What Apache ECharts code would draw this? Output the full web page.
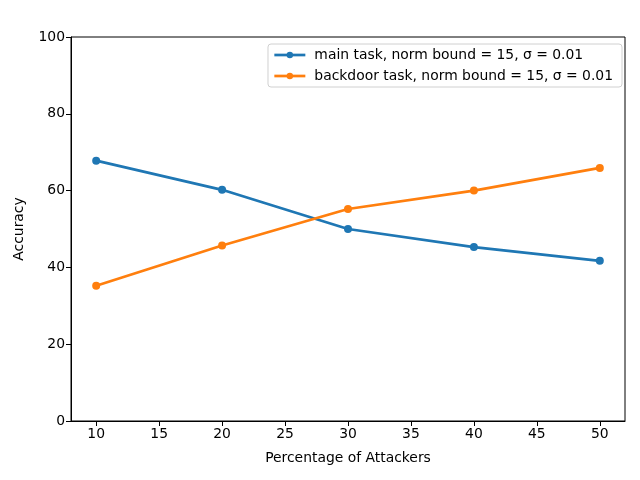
<!DOCTYPE html>
<html>
<head>
<meta charset="utf-8">
<script src="https://cdn.jsdelivr.net/npm/echarts@6/dist/echarts.min.js"></script>
<style>html,body{margin:0;padding:0;background:#fff}#c{width:640px;height:480px}</style>
</head>
<body>
<div id="c"></div>
<script>
const attackers = [10, 20, 30, 40, 50];
const mainTask = [67.8, 60.2, 50.0, 45.3, 41.7];
const backdoorTask = [35.2, 45.7, 55.2, 60.0, 65.9];
const xTicks = [10, 15, 20, 25, 30, 35, 40, 45, 50];
const mainName = 'main task, norm bound = 15, σ = 0.01';
const backdoorName = 'backdoor task, norm bound = 15, σ = 0.01';

const font = 'DejaVu Sans';
const fs = 13.9;
const chart = echarts.init(document.getElementById('c'), null, {renderer: 'canvas'});
chart.setOption({
  animation: false,
  backgroundColor: '#fff',
  textStyle: {fontFamily: font},
  grid: {left: 71, right: 15, top: 37, bottom: 59, show: true, borderColor: '#000', borderWidth: 1, backgroundColor: 'transparent'},
  legend: {
    right: 18, top: 44, orient: 'vertical',
    backgroundColor: '#fff', borderColor: '#d0d0d0', borderWidth: 1, borderRadius: 3,
    padding: [4, 9, 4, 5], itemGap: 7, itemWidth: 31, itemHeight: 8,
    lineStyle: {width: 2.7},
    textStyle: {fontFamily: font, fontSize: fs, color: '#000', padding: [0, 0, 0, 4]},
    data: [mainName, backdoorName]
  },
  xAxis: {
    type: 'value', min: 8, max: 52,
    name: 'Percentage of Attackers', nameLocation: 'middle', nameGap: 30,
    nameTextStyle: {fontFamily: font, fontSize: fs, color: '#000'},
    axisLine: {show: true, lineStyle: {color: '#000', width: 1}},
    axisTick: {show: true, customValues: xTicks, length: 5, lineStyle: {color: '#000'}},
    axisLabel: {customValues: xTicks, fontFamily: font, fontSize: fs, color: '#000', margin: 6},
    splitLine: {show: false}
  },
  yAxis: {
    type: 'value', min: 0, max: 100, interval: 20,
    name: 'Accuracy', nameLocation: 'middle', nameGap: 45, nameRotate: 90,
    nameTextStyle: {fontFamily: font, fontSize: fs, color: '#000'},
    axisLine: {show: true, lineStyle: {color: '#000', width: 1}},
    axisTick: {show: true, length: 5, lineStyle: {color: '#000'}},
    axisLabel: {fontFamily: font, fontSize: fs, color: '#000', margin: 6},
    splitLine: {show: false}
  },
  series: [
    {name: mainName, type: 'line', data: attackers.map((x, i) => [x, mainTask[i]]),
     color: '#1f77b4', lineStyle: {width: 2.7}, symbol: 'circle', symbolSize: 8, showAllSymbol: true},
    {name: backdoorName, type: 'line', data: attackers.map((x, i) => [x, backdoorTask[i]]),
     color: '#ff7f0e', lineStyle: {width: 2.7}, symbol: 'circle', symbolSize: 8, showAllSymbol: true}
  ]
});
</script>
</body>
</html>
